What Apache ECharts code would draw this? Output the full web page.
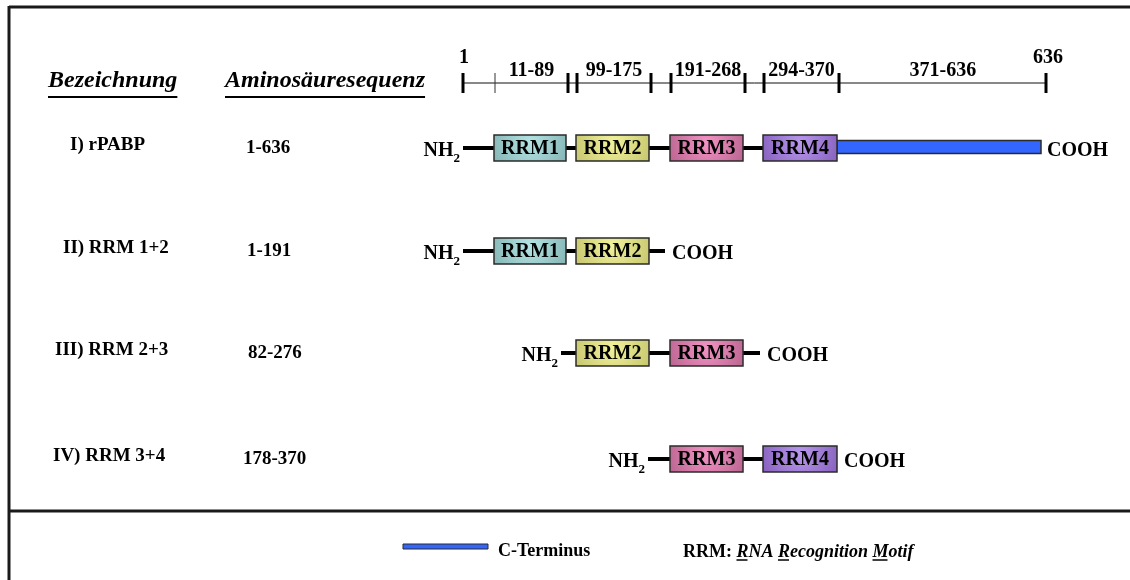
<!DOCTYPE html>
<html><head><meta charset="utf-8">
<script src="https://cdn.jsdelivr.net/npm/echarts@6/dist/echarts.min.js"></script>
<style>html,body{margin:0;padding:0;background:#fff}#c{width:1130px;height:580px}</style>
</head><body><div id="c"></div>
<script>
const FONT = '"Liberation Serif", "Times New Roman", serif';

// ---------------- data ----------------
const headers = ['Bezeichnung', 'Aminosäuresequenz'];
const rulerTicks = [1, 11, 89, 99, 175, 191, 268, 294, 370, 636];
const rulerEndLabels = ['1', '636'];
const rulerSegments = ['11-89', '99-175', '191-268', '294-370', '371-636'];
const segStart = [11, 99, 191, 294, 371];
const segEnd = [89, 175, 268, 370, 636];
const constructNames = ['I) rPABP', 'II) RRM 1+2', 'III) RRM 2+3', 'IV) RRM 3+4'];
const constructRanges = ['1-636', '1-191', '82-276', '178-370'];
const constructDomains = [
  ['RRM1', 'RRM2', 'RRM3', 'RRM4', 'C-Terminus'],
  ['RRM1', 'RRM2'],
  ['RRM2', 'RRM3'],
  ['RRM3', 'RRM4']
];
const domainNames = ['RRM1', 'RRM2', 'RRM3', 'RRM4', 'C-Terminus'];
const domainStart = [11, 99, 191, 294, 371];
const domainEnd = [89, 175, 268, 370, 636];
const legendLabel = 'C-Terminus';
const noteBold = 'RRM: ';
const noteItalic = 'RNA Recognition Motif';

// ---------------- layout (schematic, non-linear ruler) ----------------
const tickX = [463, 495, 568, 577, 651, 671, 745, 764, 839, 1046];
const thinTicks = [11];
const rulerY = 83;
const rowY = [148, 251, 353, 459];
const linkerX = [[463, 1040], [463, 665], [561, 760], [648, 837]];
const nameX = [70, 63, 55, 53];
const rangeX = [246, 247, 248, 243];
const domainColors = {
  RRM1: ['#b4e4e4', '#6e9e9e'],
  RRM2: ['#f2f29c', '#b2b25a'],
  RRM3: ['#f294c4', '#a04e78'],
  RRM4: ['#b898ec', '#7048a8']
};
const BLUE = '#3366ff';

function aaToX(aa) {
  for (let i = 0; i < rulerTicks.length - 1; i++) {
    if (aa <= rulerTicks[i + 1]) {
      const t = (aa - rulerTicks[i]) / (rulerTicks[i + 1] - rulerTicks[i]);
      return tickX[i] + t * (tickX[i + 1] - tickX[i]);
    }
  }
  return tickX[tickX.length - 1];
}
function grad(name) {
  const c = domainColors[name];
  return {type: 'radial', x: 0.5, y: 0.3, r: 2.2, colorStops: [{offset: 0, color: c[0]}, {offset: 1, color: c[1]}]};
}
const measureCtx = document.createElement('canvas').getContext('2d');
function textW(font, s) { measureCtx.font = font; return measureCtx.measureText(s).width; }

const chart = echarts.init(document.getElementById('c'), null, {renderer: 'canvas'});

function renderRulerTick(params, api) {
  const aa = api.value(0);
  const p0 = api.coord([aaToX(aa), rulerY - 10]);
  const p1 = api.coord([aaToX(aa), rulerY + 10]);
  const thin = thinTicks.indexOf(aa) >= 0;
  return {type: 'line', shape: {x1: p0[0], y1: p0[1], x2: p1[0], y2: p1[1]},
    style: {stroke: thin ? '#333' : '#000', lineWidth: thin ? 1 : 3}};
}
function renderRulerLabels(params, api) {
  const children = [];
  const a = api.coord([aaToX(rulerTicks[0]), rulerY]);
  const b = api.coord([aaToX(rulerTicks[rulerTicks.length - 1]), rulerY]);
  children.push({type: 'line', shape: {x1: a[0], y1: a[1], x2: b[0], y2: b[1]}, style: {stroke: '#111', lineWidth: 1}});
  rulerSegments.forEach((lab, k) => {
    const cx = (aaToX(segStart[k]) + aaToX(segEnd[k])) / 2;
    const p = api.coord([cx, rulerY - 12]);
    children.push({type: 'text', style: {text: lab, x: p[0], y: p[1], align: 'center', verticalAlign: 'middle',
      font: 'bold 20px ' + FONT, fill: '#000'}});
  });
  const e0 = api.coord([aaToX(1), rulerY - 25]);
  const e1 = api.coord([aaToX(636) + 2, rulerY - 25]);
  children.push({type: 'text', style: {text: rulerEndLabels[0], x: e0[0] + 1, y: e0[1], align: 'center', verticalAlign: 'middle', font: 'bold 20px ' + FONT, fill: '#000'}});
  children.push({type: 'text', style: {text: rulerEndLabels[1], x: e1[0], y: e1[1], align: 'center', verticalAlign: 'middle', font: 'bold 20px ' + FONT, fill: '#000'}});
  return {type: 'group', children};
}
function renderConstruct(params, api) {
  const i = params.dataIndex;
  const y = rowY[i];
  const ch = [];
  const [lx0, lx1] = linkerX[i];
  const p0 = api.coord([lx0, y]), p1 = api.coord([lx1, y]);
  ch.push({type: 'line', shape: {x1: p0[0], y1: p0[1], x2: p1[0], y2: p1[1]}, style: {stroke: '#000', lineWidth: 4}, z2: 1});
  constructDomains[i].forEach(name => {
    const d = domainNames.indexOf(name);
    const isC = name === 'C-Terminus';
    const x0 = isC ? aaToX(domainEnd[d - 1]) - 2 : aaToX(domainStart[d]) - 1;
    const x1 = isC ? aaToX(domainEnd[d]) - 5 : aaToX(domainEnd[d]) - 2;
    const h = isC ? 13 : 26;
    const yc = isC ? y - 1 : y;
    const a = api.coord([x0, yc - h / 2]), b = api.coord([x1, yc + h / 2]);
    ch.push({type: 'rect', shape: {x: a[0], y: a[1], width: b[0] - a[0], height: b[1] - a[1]},
      style: {fill: isC ? BLUE : grad(name), stroke: '#2b2b2b', lineWidth: 1.5}, z2: isC ? 2 : 3});
    if (!isC) {
      ch.push({type: 'text', style: {text: name, x: (a[0] + b[0]) / 2, y: (a[1] + b[1]) / 2 + 1, align: 'center',
        verticalAlign: 'middle', font: 'bold 20px ' + FONT, fill: '#000'}, z2: 4});
    }
  });
  // NH2
  const subW = textW('bold 13px ' + FONT, '2');
  const n = api.coord([lx0 - 3 - subW, y + 3]);
  ch.push({type: 'text', style: {text: 'NH', x: n[0], y: n[1], align: 'right', verticalAlign: 'middle', font: 'bold 20px ' + FONT, fill: '#000'}});
  ch.push({type: 'text', style: {text: '2', x: n[0], y: n[1] + 8, align: 'left', verticalAlign: 'middle', font: 'bold 13px ' + FONT, fill: '#000'}});
  // COOH
  const co = api.coord([lx1 + 7, y + 3]);
  ch.push({type: 'text', style: {text: 'COOH', x: co[0], y: co[1], align: 'left', verticalAlign: 'middle', font: 'bold 20px ' + FONT, fill: '#000'}});
  // name and range
  const nm = api.coord([nameX[i], y - 3]);
  ch.push({type: 'text', style: {text: constructNames[i], x: nm[0], y: nm[1], align: 'left', verticalAlign: 'middle', font: 'bold 19px ' + FONT, fill: '#000'}});
  const rg = api.coord([rangeX[i], y]);
  ch.push({type: 'text', style: {text: constructRanges[i], x: rg[0], y: rg[1], align: 'left', verticalAlign: 'middle', font: 'bold 19px ' + FONT, fill: '#000'}});
  return {type: 'group', children: ch};
}

// graphic: frame, headers, legend
const headFont = 'italic bold 24px ' + FONT;
const headX = [48, 225];
const headY = 81;
const noteFontB = 'bold 18px ' + FONT;
const noteFontI = 'italic bold 18px ' + FONT;
const noteX = 683, noteY = 552;
const graphics = [
  {type: 'line', shape: {x1: 9, y1: 7, x2: 1130, y2: 7}, style: {stroke: '#1a1a1a', lineWidth: 3}},
  {type: 'line', shape: {x1: 9, y1: 6, x2: 9, y2: 580}, style: {stroke: '#1a1a1a', lineWidth: 3}},
  {type: 'line', shape: {x1: 9, y1: 511, x2: 1130, y2: 511}, style: {stroke: '#1a1a1a', lineWidth: 3}}
];
headers.forEach((h, k) => {
  const w = textW(headFont, h);
  graphics.push({type: 'text', style: {text: h, x: headX[k], y: headY, align: 'left', verticalAlign: 'middle', font: headFont, fill: '#000'}});
  graphics.push({type: 'line', shape: {x1: headX[k], y1: headY + 16, x2: headX[k] + w, y2: headY + 16}, style: {stroke: '#000', lineWidth: 2}});
});
graphics.push({type: 'rect', shape: {x: 403, y: 544, width: 85, height: 5}, style: {fill: BLUE, stroke: '#2b2b2b', lineWidth: 1}});
graphics.push({type: 'text', style: {text: legendLabel, x: 498, y: 551, align: 'left', verticalAlign: 'middle', font: noteFontB, fill: '#000'}});
const wB = textW(noteFontB, noteBold);
graphics.push({type: 'text', style: {text: noteBold, x: noteX, y: noteY, align: 'left', verticalAlign: 'middle', font: noteFontB, fill: '#000'}});
graphics.push({type: 'text', style: {text: noteItalic, x: noteX + wB, y: noteY, align: 'left', verticalAlign: 'middle', font: noteFontI, fill: '#000'}});
// underline the initials R, R, M
const words = noteItalic.split(' ');
let off = noteX + wB;
words.forEach((wd, k) => {
  const wFirst = textW(noteFontI, wd[0]);
  graphics.push({type: 'line', shape: {x1: off, y1: noteY + 8, x2: off + wFirst - 1, y2: noteY + 8}, style: {stroke: '#000', lineWidth: 1.5}});
  off += textW(noteFontI, wd + (k < words.length - 1 ? ' ' : ''));
});

chart.setOption({
  animation: false,
  backgroundColor: '#fff',
  grid: {left: 0, right: 0, top: 0, bottom: 0},
  xAxis: {type: 'value', min: 0, max: 1130, show: false},
  yAxis: {type: 'value', min: 0, max: 580, inverse: true, show: false},
  graphic: graphics,
  series: [
    {type: 'custom', coordinateSystem: 'cartesian2d', silent: true, clip: false,
      data: [[aaToX(1), rulerY]], encode: {x: 0, y: 1}, renderItem: renderRulerLabels},
    {type: 'custom', coordinateSystem: 'cartesian2d', silent: true, clip: false,
      data: rulerTicks.map(t => [t, rulerY]), encode: {x: 0, y: 1}, renderItem: renderRulerTick},
    {type: 'custom', coordinateSystem: 'cartesian2d', silent: true, clip: false,
      data: constructNames.map((n, i) => [linkerX[i][0], rowY[i]]), encode: {x: 0, y: 1}, renderItem: renderConstruct}
  ]
});
</script></body></html>
